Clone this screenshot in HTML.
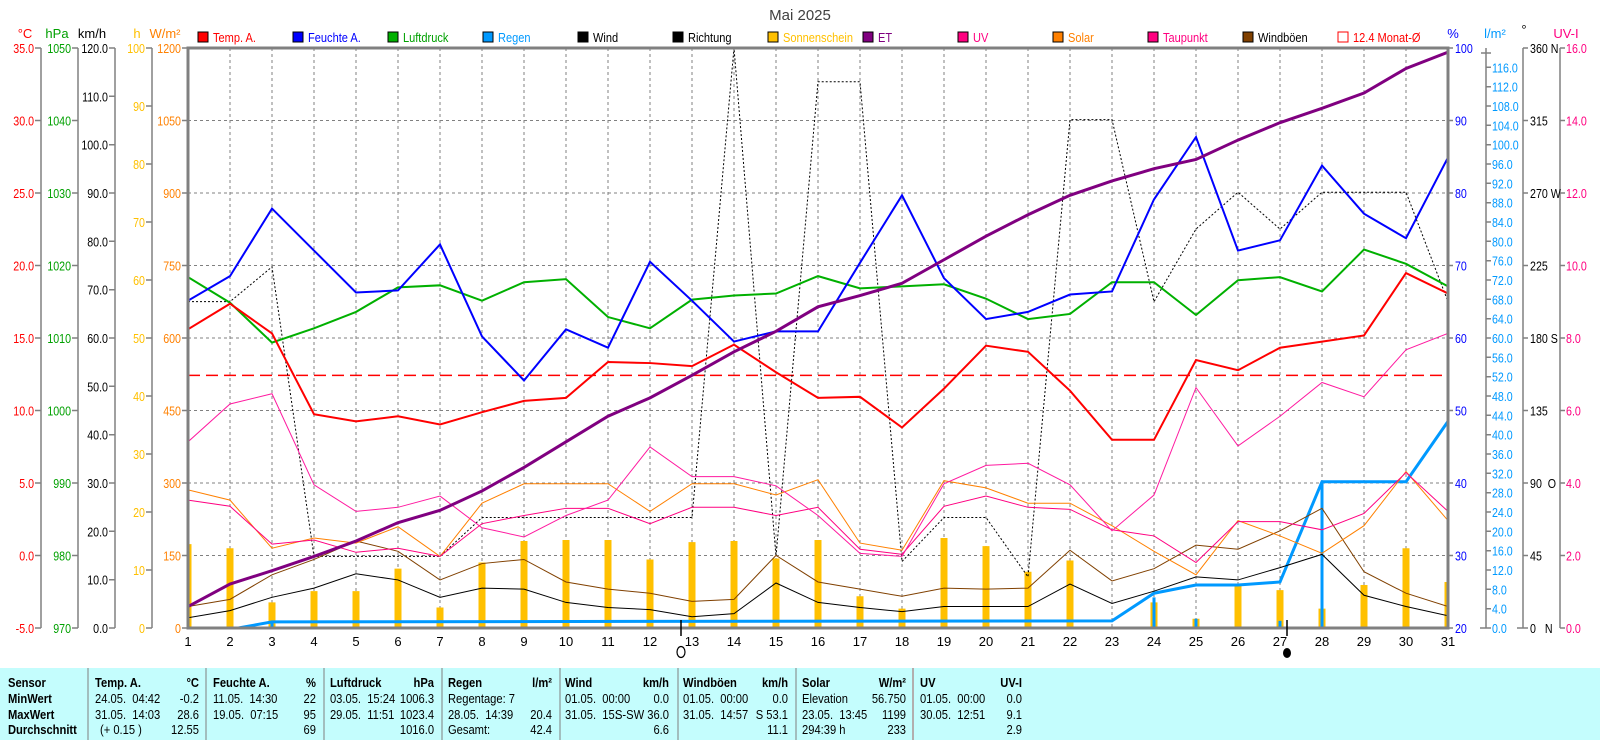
<!DOCTYPE html>
<html><head><meta charset="utf-8"><style>
html,body{margin:0;padding:0;background:#fff;}
svg{display:block;font-family:"Liberation Sans",sans-serif;}
.g{vector-effect:non-scaling-stroke;fill:none;}
</style></head><body>
<svg width="1600" height="740" viewBox="0 0 1600 740" xmlns="http://www.w3.org/2000/svg">
<defs><clipPath id="pc"><rect x="188" y="48" width="1260" height="580"/></clipPath></defs>
<rect width="1600" height="740" fill="#fff"/>
<text x="800" y="20" font-size="15" text-anchor="middle" fill="#404040">Mai 2025</text>

<g stroke="#808080" stroke-width="1" stroke-dasharray="3,3">
<path d="M230 48V628M272 48V628M314 48V628M356 48V628M398 48V628M440 48V628M482 48V628M524 48V628M566 48V628M608 48V628M650 48V628M692 48V628M734 48V628M776 48V628M818 48V628M860 48V628M902 48V628M944 48V628M986 48V628M1028 48V628M1070 48V628M1112 48V628M1154 48V628M1196 48V628M1238 48V628M1280 48V628M1322 48V628M1364 48V628M1406 48V628"/>
<path d="M188 120.5H1448M188 193H1448M188 265.5H1448M188 338H1448M188 410.5H1448M188 483H1448M188 555.5H1448"/>
</g>

<g clip-path="url(#pc)">
<g transform="translate(188,48) scale(42,1.02293) translate(-1,-48)">
<path class="g" stroke="#ffc000" stroke-width="7" d="M1 615V533M2 615V537M3 615V590M4 615V579M5 615V579M6 615V557M7 615V595M8 615V551M9 615V530M10 615V529M11 615V529M12 615V548M13 615V531M14 615V530M15 615V547M16 615V529M17 615V584M18 615V596M19 615V527M20 615V535M21 615V560M22 615V549M24 615V590M25 615V606M26 615V574M27 615V578M28 615V596M29 615V573M30 615V537M31 615V570"/>
<path class="g" stroke="#0099ff" stroke-width="3" d="M3 615V609M24 615V585M25 615V606M27 615V608M28 615V472M31 615V573"/>
<polyline class="g" stroke="#0099ff" stroke-width="3" points="1,615 2.2,615 3,609 23,608 24,581 25,573 26,573 27,570 28,472 29,472 30,472 31,413"/>
<line class="g" x1="1" y1="368" x2="31" y2="368" stroke="#ff0000" stroke-width="1.5" stroke-dasharray="12,6"/>
<polyline class="g" stroke="#000" stroke-width="1" stroke-dasharray="2,2" points="1,296 2,296 3,262 4,545 5,545 6,545 7,545 8,507 9,507 10,507 11,507 12,507 13,507 14,48 15,545 16,81 17,81 18,550 19,507 20,507 21,565 22,118 23,118 24,296 25,225 26,189 27,225 28,189 29,189 30,189 31,296"/>
<polyline class="g" stroke="#000" stroke-width="1" points="1,605 2,598 3,585 4,576 5,562 6,568 7,585 8,576 9,577 10,590 11,595 12,597 13,604 14,601 15,571 16,590 17,595 18,599 19,594 20,594 21,594 22,572 23,591 24,579 25,565 26,568 27,556 28,543 29,583 30,594 31,603"/>
<polyline class="g" stroke="#804000" stroke-width="1" points="1,594 2,587 3,563 4,548 5,530 6,540 7,568 8,552 9,548 10,570 11,577 12,581 13,589 14,587 15,544 16,570 17,577 18,584 19,576 20,577 21,576 22,539 23,569 24,557 25,534 26,538 27,520 28,498 29,560 30,581 31,594"/>
<polyline class="g" stroke="#ff8000" stroke-width="1" points="1,480 2,490 3,537 4,527 5,532 6,516 7,545 8,493 9,474 10,474 11,474 12,501 13,474 14,474 15,485 16,470 17,532 18,539 19,471 20,478 21,493 22,493 23,515 24,540 25,563 26,510 27,525 28,542 29,515 30,462 31,510"/>
<polyline class="g" stroke="#ff0080" stroke-width="1" points="1,490 2,496 3,533 4,529 5,541 6,537 7,545 8,513 9,505 10,498 11,498 12,513 13,497 14,497 15,505 16,497 17,538 18,543 19,496 20,486 21,497 22,499 23,519 24,525 25,551 26,511 27,511 28,519 29,503 30,463 31,501"/>
<polyline class="g" stroke="#ff1aa0" stroke-width="1" points="1,433 2,396 3,386 4,475 5,501 6,497 7,486 8,517 9,526 10,505 11,490 12,438 13,467 14,467 15,476 16,505 17,542 18,545 19,474 20,456 21,454 22,475 23,520 24,485 25,380 26,437 27,408 28,375 29,389 30,343 31,327"/>
<polyline class="g" stroke="#00b000" stroke-width="2" points="1,272 2,297 3,336 4,322 5,306 6,282 7,280 8,295 9,277 10,274 11,311 12,322 13,294 14,290 15,288 16,271 17,283 18,281 19,279 20,293 21,313 22,308 23,277 24,277 25,309 26,275 27,272 28,286 29,245 30,259 31,281"/>
<polyline class="g" stroke="#0000ff" stroke-width="2" points="1,295 2,271 3,205 4,246 5,287 6,285 7,240 8,330 9,373 10,323 11,341 12,257 13,295 14,335 15,325 16,325 17,258 18,192 19,273 20,313 21,306 22,289 23,286 24,196 25,135 26,246 27,236 28,163 29,210 30,234 31,155"/>
<polyline class="g" stroke="#ff0000" stroke-width="2" points="1,323 2,298 3,327 4,406 5,413 6,408 7,416 8,404 9,393 10,390 11,355 12,356 13,359 14,338 15,365 16,390 17,389 18,419 19,381 20,339 21,345 22,383 23,431 24,431 25,353 26,363 27,341 28,335 29,329 30,268 31,288"/>
<polyline class="g" stroke="#800080" stroke-width="3" points="1,594 2,572 3,559 4,545 5,530 6,512 7,500 8,481 9,458 10,433 11,408 12,390 13,368 14,345 15,325 16,301 17,290 18,278 19,255 20,232 21,211 22,192 23,178 24,166 25,157 26,138 27,121 28,107 29,92 30,68 31,52"/>
</g></g>

<rect x="188" y="48" width="1260" height="580" fill="none" stroke="#808080" stroke-width="3"/>

<g stroke="#808080" stroke-width="1.5" fill="none">
<path d="M41 48V628M35 48H41M35 120.5H41M35 193H41M35 265.5H41M35 338H41M35 410.5H41M35 483H41M35 555.5H41M35 628H41"/>
<path d="M78 48V628M72 48H78M72 120.5H78M72 193H78M72 265.5H78M72 338H78M72 410.5H78M72 483H78M72 555.5H78M72 628H78"/>
<path d="M115 48V628M109 48H115M109 96.3H115M109 144.7H115M109 193H115M109 241.3H115M109 289.7H115M109 338H115M109 386.3H115M109 434.7H115M109 483H115M109 531.3H115M109 579.7H115M109 628H115"/>
<path d="M152 48V628M146 48H152M146 106H152M146 164H152M146 222H152M146 280H152M146 338H152M146 396H152M146 454H152M146 512H152M146 570H152M146 628H152"/>
<path d="M182 48H188M182 120.5H188M182 193H188M182 265.5H188M182 338H188M182 410.5H188M182 483H188M182 555.5H188M182 628H188"/>
<path d="M1448 48H1453M1448 120.5H1453M1448 193H1453M1448 265.5H1453M1448 338H1453M1448 410.5H1453M1448 483H1453M1448 555.5H1453M1448 628H1453"/>
<path d="M1486 48V628M1481 53H1491M1486 67.3H1491M1486 86.7H1491M1486 106H1491M1486 125.3H1491M1486 144.7H1491M1486 164H1491M1486 183.3H1491M1486 202.7H1491M1486 222H1491M1486 241.3H1491M1486 260.7H1491M1486 280H1491M1486 299.3H1491M1486 318.7H1491M1486 338H1491M1486 357.3H1491M1486 376.7H1491M1486 396H1491M1486 415.3H1491M1486 434.7H1491M1486 454H1491M1486 473.3H1491M1486 492.7H1491M1486 512H1491M1486 531.3H1491M1486 550.7H1491M1486 570H1491M1486 589.3H1491M1486 608.7H1491M1480 628H1491"/>
<path d="M1523 48V628M1523 48H1528M1523 120.5H1528M1523 193H1528M1523 265.5H1528M1523 338H1528M1523 410.5H1528M1523 483H1528M1523 555.5H1528M1517 628H1528"/>
<path d="M1560 48V628M1560 48H1565M1560 120.5H1565M1560 193H1565M1560 265.5H1565M1560 338H1565M1560 410.5H1565M1560 483H1565M1560 555.5H1565M1560 628H1565"/>
</g>

<g font-size="13">
<text x="25" y="38" fill="#ff0000" text-anchor="middle">°C</text>
<text x="57" y="38" fill="#00a000" text-anchor="middle">hPa</text>
<text x="92" y="38" fill="#000" text-anchor="middle">km/h</text>
<text x="137" y="38" fill="#ffc000" text-anchor="middle">h</text>
<text x="165" y="38" fill="#ff8000" text-anchor="middle">W/m²</text>
<text x="1453" y="38" fill="#0000ff" text-anchor="middle">%</text>
<text x="1495" y="38" fill="#0099ff" text-anchor="middle">l/m²</text>
<text x="1524" y="34" fill="#000" text-anchor="middle">°</text>
<text x="1566" y="38" fill="#ff0080" text-anchor="middle">UV-I</text>

<g transform="scale(0.82,1)">
<g fill="#ff0000" text-anchor="end">
<text x="41.5" y="53">35.0</text><text x="41.5" y="125.5">30.0</text><text x="41.5" y="198">25.0</text><text x="41.5" y="270.5">20.0</text><text x="41.5" y="343">15.0</text><text x="41.5" y="415.5">10.0</text><text x="41.5" y="488">5.0</text><text x="41.5" y="560.5">0.0</text><text x="41.5" y="633">-5.0</text>
</g>
<g fill="#00a000" text-anchor="end">
<text x="86.6" y="53">1050</text><text x="86.6" y="125.5">1040</text><text x="86.6" y="198">1030</text><text x="86.6" y="270.5">1020</text><text x="86.6" y="343">1010</text><text x="86.6" y="415.5">1000</text><text x="86.6" y="488">990</text><text x="86.6" y="560.5">980</text><text x="86.6" y="633">970</text>
</g>
<g fill="#000" text-anchor="end">
<text x="131.7" y="53">120.0</text><text x="131.7" y="101.3">110.0</text><text x="131.7" y="149.7">100.0</text><text x="131.7" y="198">90.0</text><text x="131.7" y="246.3">80.0</text><text x="131.7" y="294.7">70.0</text><text x="131.7" y="343">60.0</text><text x="131.7" y="391.3">50.0</text><text x="131.7" y="439.7">40.0</text><text x="131.7" y="488">30.0</text><text x="131.7" y="536.3">20.0</text><text x="131.7" y="584.7">10.0</text><text x="131.7" y="633">0.0</text>
</g>
<g fill="#ffc000" text-anchor="end">
<text x="176.8" y="53">100</text><text x="176.8" y="111">90</text><text x="176.8" y="169">80</text><text x="176.8" y="227">70</text><text x="176.8" y="285">60</text><text x="176.8" y="343">50</text><text x="176.8" y="401">40</text><text x="176.8" y="459">30</text><text x="176.8" y="517">20</text><text x="176.8" y="575">10</text><text x="176.8" y="633">0</text>
</g>
<g fill="#ff8000" text-anchor="end">
<text x="220.7" y="53">1200</text><text x="220.7" y="125.5">1050</text><text x="220.7" y="198">900</text><text x="220.7" y="270.5">750</text><text x="220.7" y="343">600</text><text x="220.7" y="415.5">450</text><text x="220.7" y="488">300</text><text x="220.7" y="560.5">150</text><text x="220.7" y="633">0</text>
</g>
<g fill="#0000ff">
<text x="1774.4" y="53">100</text><text x="1774.4" y="125.5">90</text><text x="1774.4" y="198">80</text><text x="1774.4" y="270.5">70</text><text x="1774.4" y="343">60</text><text x="1774.4" y="415.5">50</text><text x="1774.4" y="488">40</text><text x="1774.4" y="560.5">30</text><text x="1774.4" y="633">20</text>
</g>
<g fill="#0099ff">
<text x="1819.5" y="72.3">116.0</text><text x="1819.5" y="91.7">112.0</text><text x="1819.5" y="111">108.0</text><text x="1819.5" y="130.3">104.0</text><text x="1819.5" y="149.7">100.0</text><text x="1819.5" y="169">96.0</text><text x="1819.5" y="188.3">92.0</text><text x="1819.5" y="207.7">88.0</text><text x="1819.5" y="227">84.0</text><text x="1819.5" y="246.3">80.0</text><text x="1819.5" y="265.7">76.0</text><text x="1819.5" y="285">72.0</text><text x="1819.5" y="304.3">68.0</text><text x="1819.5" y="323.7">64.0</text><text x="1819.5" y="343">60.0</text><text x="1819.5" y="362.3">56.0</text><text x="1819.5" y="381.7">52.0</text><text x="1819.5" y="401">48.0</text><text x="1819.5" y="420.3">44.0</text><text x="1819.5" y="439.7">40.0</text><text x="1819.5" y="459">36.0</text><text x="1819.5" y="478.3">32.0</text><text x="1819.5" y="497.7">28.0</text><text x="1819.5" y="517">24.0</text><text x="1819.5" y="536.3">20.0</text><text x="1819.5" y="555.7">16.0</text><text x="1819.5" y="575">12.0</text><text x="1819.5" y="594.3">8.0</text><text x="1819.5" y="613.7">4.0</text><text x="1819.5" y="633">0.0</text>
</g>
<g fill="#000">
<text x="1865.9" y="53">360 N</text><text x="1865.9" y="125.5">315</text><text x="1865.9" y="198">270 W</text><text x="1865.9" y="270.5">225</text><text x="1865.9" y="343">180 S</text><text x="1865.9" y="415.5">135</text><text x="1865.9" y="488">90 &#160;O</text><text x="1865.9" y="560.5">45</text><text x="1865.9" y="633">0 &#160; N</text>
</g>
<g fill="#ff0080">
<text x="1909.8" y="53">16.0</text><text x="1909.8" y="125.5">14.0</text><text x="1909.8" y="198">12.0</text><text x="1909.8" y="270.5">10.0</text><text x="1909.8" y="343">8.0</text><text x="1909.8" y="415.5">6.0</text><text x="1909.8" y="488">4.0</text><text x="1909.8" y="560.5">2.0</text><text x="1909.8" y="633">0.0</text>
</g>
</g>

<g fill="#000" text-anchor="middle">
<text x="188" y="646">1</text><text x="230" y="646">2</text><text x="272" y="646">3</text><text x="314" y="646">4</text><text x="356" y="646">5</text><text x="398" y="646">6</text><text x="440" y="646">7</text><text x="482" y="646">8</text><text x="524" y="646">9</text><text x="566" y="646">10</text><text x="608" y="646">11</text><text x="650" y="646">12</text><text x="692" y="646">13</text><text x="734" y="646">14</text><text x="776" y="646">15</text><text x="818" y="646">16</text><text x="860" y="646">17</text><text x="902" y="646">18</text><text x="944" y="646">19</text><text x="986" y="646">20</text><text x="1028" y="646">21</text><text x="1070" y="646">22</text><text x="1112" y="646">23</text><text x="1154" y="646">24</text><text x="1196" y="646">25</text><text x="1238" y="646">26</text><text x="1280" y="646">27</text><text x="1322" y="646">28</text><text x="1364" y="646">29</text><text x="1406" y="646">30</text><text x="1448" y="646">31</text>
</g>
<path d="M681 620V636M1287 620V636" stroke="#000" stroke-width="1.5"/>
<ellipse cx="681" cy="652" rx="4" ry="5.5" fill="none" stroke="#000" stroke-width="1.2"/>
<ellipse cx="1287" cy="653" rx="4" ry="5" fill="#000"/>

<g stroke="#000" stroke-width="1">
<rect x="198" y="32" width="10" height="10" fill="#ff0000"/>
<rect x="293" y="32" width="10" height="10" fill="#0000ff"/>
<rect x="388" y="32" width="10" height="10" fill="#00b000"/>
<rect x="483" y="32" width="10" height="10" fill="#0099ff"/>
<rect x="578" y="32" width="10" height="10" fill="#000"/>
<rect x="673" y="32" width="10" height="10" fill="#000"/>
<rect x="768" y="32" width="10" height="10" fill="#ffc000"/>
<rect x="863" y="32" width="10" height="10" fill="#800080"/>
<rect x="958" y="32" width="10" height="10" fill="#ff0080"/>
<rect x="1053" y="32" width="10" height="10" fill="#ff8000"/>
<rect x="1148" y="32" width="10" height="10" fill="#ff0080"/>
<rect x="1243" y="32" width="10" height="10" fill="#804000"/>
<rect x="1338" y="32" width="10" height="10" fill="#fff" stroke="#ff0000"/>
</g>
<g transform="scale(0.85,1)">
<text x="250.6" y="42" fill="#ff0000">Temp. A.</text>
<text x="362.4" y="42" fill="#0000ff">Feuchte A.</text>
<text x="474.1" y="42" fill="#00a000">Luftdruck</text>
<text x="585.9" y="42" fill="#0099ff">Regen</text>
<text x="697.6" y="42" fill="#000">Wind</text>
<text x="809.4" y="42" fill="#000">Richtung</text>
<text x="921.2" y="42" fill="#ffc000">Sonnenschein</text>
<text x="1032.9" y="42" fill="#800080">ET</text>
<text x="1144.7" y="42" fill="#ff0080">UV</text>
<text x="1256.5" y="42" fill="#ff8000">Solar</text>
<text x="1368.2" y="42" fill="#ff0080">Taupunkt</text>
<text x="1480" y="42" fill="#000">Windböen</text>
<text x="1591.8" y="42" fill="#ff0000">12.4 Monat-Ø</text>
</g>
</g>

<rect x="0" y="668" width="1600" height="72" fill="#c4fdfd"/>
<path d="M88 668V740M206 668V740M324 668V740M442 668V740M560 668V740M678 668V740M796 668V740" stroke="#808080" stroke-width="1"/>
<path d="M913 668V740" stroke="#a06060" stroke-width="1"/>
<g transform="scale(0.86,1)" font-size="13" fill="#000">
<g font-weight="bold">
<text x="9.3" y="687">Sensor</text><text x="9.3" y="703">MinWert</text><text x="9.3" y="719">MaxWert</text><text x="9.3" y="734">Durchschnitt</text>
<text x="110.5" y="687">Temp. A.</text><text x="231.4" y="687" text-anchor="end">°C</text>
<text x="247.7" y="687">Feuchte A.</text><text x="367.4" y="687" text-anchor="end">%</text>
<text x="383.7" y="687">Luftdruck</text><text x="504.7" y="687" text-anchor="end">hPa</text>
<text x="520.9" y="687">Regen</text><text x="641.9" y="687" text-anchor="end">l/m²</text>
<text x="657" y="687">Wind</text><text x="777.9" y="687" text-anchor="end">km/h</text>
<text x="794.2" y="687">Windböen</text><text x="916.3" y="687" text-anchor="end">km/h</text>
<text x="932.6" y="687">Solar</text><text x="1053.5" y="687" text-anchor="end">W/m²</text>
<text x="1069.8" y="687">UV</text><text x="1188.4" y="687" text-anchor="end">UV-I</text>
</g>
<text x="110.5" y="703">24.05.&#160; 04:42</text><text x="231.4" y="703" text-anchor="end">-0.2</text>
<text x="110.5" y="719">31.05.&#160; 14:03</text><text x="231.4" y="719" text-anchor="end">28.6</text>
<text x="116.3" y="734">(+ 0.15 )</text><text x="231.4" y="734" text-anchor="end">12.55</text>
<text x="247.7" y="703">11.05.&#160; 14:30</text><text x="367.4" y="703" text-anchor="end">22</text>
<text x="247.7" y="719">19.05.&#160; 07:15</text><text x="367.4" y="719" text-anchor="end">95</text>
<text x="367.4" y="734" text-anchor="end">69</text>
<text x="383.7" y="703">03.05.&#160; 15:24</text><text x="504.7" y="703" text-anchor="end">1006.3</text>
<text x="383.7" y="719">29.05.&#160; 11:51</text><text x="504.7" y="719" text-anchor="end">1023.4</text>
<text x="504.7" y="734" text-anchor="end">1016.0</text>
<text x="520.9" y="703">Regentage: 7</text>
<text x="520.9" y="719">28.05.&#160; 14:39</text><text x="641.9" y="719" text-anchor="end">20.4</text>
<text x="520.9" y="734">Gesamt:</text><text x="641.9" y="734" text-anchor="end">42.4</text>
<text x="657" y="703">01.05.&#160; 00:00</text><text x="777.9" y="703" text-anchor="end">0.0</text>
<text x="657" y="719">31.05.&#160; 15:</text><text x="777.9" y="719" text-anchor="end">S-SW 36.0</text>
<text x="777.9" y="734" text-anchor="end">6.6</text>
<text x="794.2" y="703">01.05.&#160; 00:00</text><text x="916.3" y="703" text-anchor="end">0.0</text>
<text x="794.2" y="719">31.05.&#160; 14:57</text><text x="916.3" y="719" text-anchor="end">S 53.1</text>
<text x="916.3" y="734" text-anchor="end">11.1</text>
<text x="932.6" y="703">Elevation</text><text x="1053.5" y="703" text-anchor="end">56.750</text>
<text x="932.6" y="719">23.05.&#160; 13:45</text><text x="1053.5" y="719" text-anchor="end">1199</text>
<text x="932.6" y="734">294:39 h</text><text x="1053.5" y="734" text-anchor="end">233</text>
<text x="1069.8" y="703">01.05.&#160; 00:00</text><text x="1188.4" y="703" text-anchor="end">0.0</text>
<text x="1069.8" y="719">30.05.&#160; 12:51</text><text x="1188.4" y="719" text-anchor="end">9.1</text>
<text x="1188.4" y="734" text-anchor="end">2.9</text>
</g>
</svg>
</body></html>
